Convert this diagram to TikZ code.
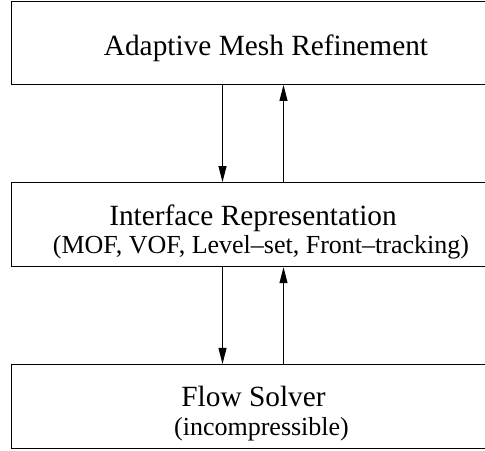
\documentclass[tikz,border=0pt]{standalone}
\usepackage{fontspec}
\setmainfont{Liberation Serif}
\usetikzlibrary{arrows.meta}
\begin{document}
\begin{tikzpicture}[x=0.75pt,y=-0.75pt,
  stage/.style={draw=black,line width=0.75pt,rectangle,inner sep=0pt,
    minimum width=374.25pt},
  maintext/.style={anchor=base,inner sep=0pt,font=\fontsize{22}{26}\selectfont},
  subtext/.style={anchor=base,inner sep=0pt,font=\fontsize{19.5}{23}\selectfont},
  flow/.style={line width=0.75pt,-{Triangle[length=12pt,width=6pt]}}]
\useasboundingbox (0,0) rectangle (485,450);

% the three stages, stacked top to bottom (right edges run past the page)
\node[stage,minimum height=62.6pt] (amr) at (260.5,42.75) {};
\node[stage,minimum height=63.15pt] (ifr) at (260.5,224.6) {};
\node[stage,minimum height=63pt] (fs) at (260.5,406.45) {};

% labels
\node[maintext] (amrlbl) at (266,55.7) {Adaptive Mesh Refinement};
\node[maintext] (ifrlbl) at (253,225) {Interface Representation};
\node[subtext] (ifrsub) at (261,253) {(MOF, VOF, Level--set, Front--tracking)};
\node[maintext] (fslbl) at (253.5,406.7) {Flow Solver};
\node[subtext] (fssub) at (261.5,435) {(incompressible)};

% data exchange between neighbouring stages
\draw[flow] ([xshift=-28.5pt]amr.south) -- ([xshift=-28.5pt]ifr.north);
\draw[flow] ([xshift=17.25pt]ifr.north) -- ([xshift=17.25pt]amr.south);
\draw[flow] ([xshift=-28.5pt]ifr.south) -- ([xshift=-28.5pt]fs.north);
\draw[flow] ([xshift=17.25pt]fs.north) -- ([xshift=17.25pt]ifr.south);
\end{tikzpicture}
\end{document}
